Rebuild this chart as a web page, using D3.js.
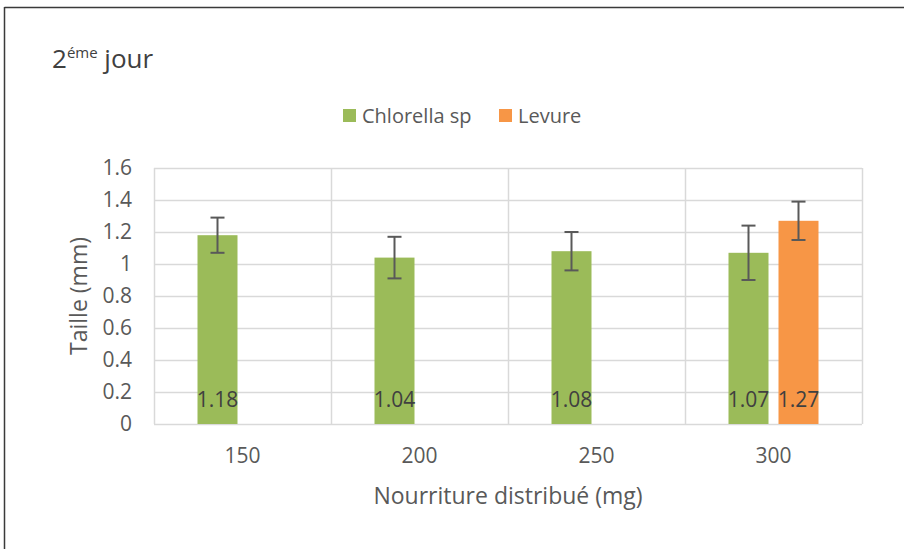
<!DOCTYPE html>
<html>
<head>
<meta charset="utf-8">
<script src="https://cdn.jsdelivr.net/npm/d3@7"></script>
<style>
  body { margin: 0; background: #fff; }
  text { font-family: "Open Sans", Lato, sans-serif; }
</style>
</head>
<body>
<div id="vis-container"></div>
<script>
//width and height
var w = 904;
var h = 549;

// data
var categories = ["150", "200", "250", "300"];
var seriesNames = ["Chlorella sp", "Levure"];
var chlorella = [1.18, 1.04, 1.08, 1.07];
var chlorellaErr = [0.11, 0.13, 0.12, 0.17];
var levure = [null, null, null, 1.27];
var levureErr = [null, null, null, 0.12];
var yTicks = [0, 0.2, 0.4, 0.6, 0.8, 1, 1.2, 1.4, 1.6];

var colors = {"Chlorella sp": "#9bbb59", "Levure": "#f79646"};
var textColor = "#595959";

var plot = {left: 154, right: 862, top: 168, bottom: 424};

var svg = d3.select("#vis-container")
    .append("svg")
    .attr("width", w)
    .attr("height", h);

// chart border (top + left only visible)
svg.append("line")
    .attr("x1", 4.5).attr("x2", w).attr("y1", 7.5).attr("y2", 7.5)
    .attr("stroke", "#3a3a3a").attr("stroke-width", 1.5);
svg.append("line")
    .attr("x1", 4.5).attr("x2", 4.5).attr("y1", 7).attr("y2", h)
    .attr("stroke", "#3a3a3a").attr("stroke-width", 1.5);

//scale function
var x0 = d3.scaleBand()
    .domain(categories)
    .range([plot.left, plot.right]);

var x1 = d3.scaleBand()
    .domain(seriesNames)
    .range([0, x0.bandwidth()])
    .paddingInner(0.2)
    .paddingOuter(0.87);

var yScale = d3.scaleLinear()
    .domain([0, 1.6])
    .range([plot.bottom, plot.top]);

// horizontal gridlines
svg.append("g")
    .selectAll("line")
    .data(yTicks)
    .enter().append("line")
    .attr("x1", plot.left)
    .attr("x2", plot.right)
    .attr("y1", function (d) { return Math.round(yScale(d)) + 0.5; })
    .attr("y2", function (d) { return Math.round(yScale(d)) + 0.5; })
    .attr("stroke", "#d9d9d9")
    .attr("stroke-width", 1.5);

// vertical gridlines at category boundaries
var bounds = categories.map(function (c) { return x0(c); }).concat([plot.right]);
svg.append("g")
    .selectAll("line")
    .data(bounds)
    .enter().append("line")
    .attr("x1", function (d) { return Math.round(d) + 0.5; })
    .attr("x2", function (d) { return Math.round(d) + 0.5; })
    .attr("y1", plot.top)
    .attr("y2", plot.bottom)
    .attr("stroke", "#d9d9d9")
    .attr("stroke-width", 1.5);

// y axis
var yAxis = d3.axisLeft(yScale)
    .tickValues(yTicks)
    .tickSize(0)
    .tickPadding(22)
    .tickFormat(function (d) { return String(d); });

var gy = svg.append("g")
    .attr("class", "y axis")
    .attr("transform", "translate(" + plot.left + ",0)")
    .call(yAxis);
gy.select(".domain").remove();
gy.selectAll("text")
    .attr("fill", textColor)
    .style("font-size", "21px");

// x axis
var xAxis = d3.axisBottom(x0).tickSize(0).tickPadding(24);
var gx = svg.append("g")
    .attr("class", "x axis")
    .attr("transform", "translate(0," + plot.bottom + ")")
    .call(xAxis);
gx.select(".domain").remove();
gx.selectAll("text")
    .attr("fill", textColor)
    .style("font-size", "21px");

// series table
var table = [];
categories.forEach(function (c, i) {
    if (chlorella[i] != null) table.push({cat: c, s: "Chlorella sp", v: chlorella[i], e: chlorellaErr[i]});
    if (levure[i] != null) table.push({cat: c, s: "Levure", v: levure[i], e: levureErr[i]});
});

// draw bars
svg.selectAll(".bar")
    .data(table)
    .enter().append("rect")
    .attr("class", "bar")
    .attr("x", function (d) { return x0(d.cat) + x1(d.s); })
    .attr("width", x1.bandwidth())
    .attr("y", function (d) { return yScale(d.v); })
    .attr("height", function (d) { return yScale(0) - yScale(d.v); })
    .attr("fill", function (d) { return colors[d.s]; });

// error bars
var err = svg.selectAll(".err")
    .data(table)
    .enter().append("g")
    .attr("class", "err")
    .attr("stroke", "#595959")
    .attr("stroke-width", 2);
function cx(d) { return x0(d.cat) + x1(d.s) + x1.bandwidth() / 2; }
err.append("line")
    .attr("x1", cx).attr("x2", cx)
    .attr("y1", function (d) { return yScale(d.v + d.e); })
    .attr("y2", function (d) { return yScale(d.v - d.e); });
err.append("line")
    .attr("x1", function (d) { return cx(d) - 7; })
    .attr("x2", function (d) { return cx(d) + 7; })
    .attr("y1", function (d) { return yScale(d.v + d.e); })
    .attr("y2", function (d) { return yScale(d.v + d.e); });
err.append("line")
    .attr("x1", function (d) { return cx(d) - 7; })
    .attr("x2", function (d) { return cx(d) + 7; })
    .attr("y1", function (d) { return yScale(d.v - d.e); })
    .attr("y2", function (d) { return yScale(d.v - d.e); });

// data labels (inside base)
svg.selectAll(".lbl")
    .data(table)
    .enter().append("text")
    .attr("class", "lbl")
    .attr("x", cx)
    .attr("y", yScale(0) - 17)
    .attr("text-anchor", "middle")
    .attr("fill", "#404040")
    .style("font-size", "21px")
    .text(function (d) { return d3.format(".2f")(d.v); });

// title
var title = svg.append("text")
    .attr("x", 52)
    .attr("y", 68)
    .attr("fill", "#404040")
    .style("font-size", "26px");
title.append("tspan").text("2");
title.append("tspan").attr("dy", -10).style("font-size", "15px").text("éme");
title.append("tspan").attr("dy", 10).text(" jour");

// axis titles
svg.append("text")
    .attr("transform", "translate(87,296) rotate(-90)")
    .attr("text-anchor", "middle")
    .attr("fill", textColor)
    .style("font-size", "23px")
    .text("Taille (mm)");

svg.append("text")
    .attr("x", 508)
    .attr("y", 504)
    .attr("text-anchor", "middle")
    .attr("fill", textColor)
    .style("font-size", "23px")
    .text("Nourriture distribué (mg)");

// draw legend
var legendX = [343, 499];
var legend = svg.selectAll(".legend")
    .data(seriesNames)
    .enter().append("g")
    .attr("class", "legend")
    .attr("transform", function (d, i) { return "translate(" + legendX[i] + ",109)"; });

legend.append("rect")
    .attr("width", 13)
    .attr("height", 13)
    .attr("fill", function (d) { return colors[d]; });

legend.append("text")
    .attr("x", 19)
    .attr("y", 6.5)
    .attr("dy", ".35em")
    .attr("fill", textColor)
    .style("font-size", "20px")
    .text(function (d) { return d; });
</script>
</body>
</html>
